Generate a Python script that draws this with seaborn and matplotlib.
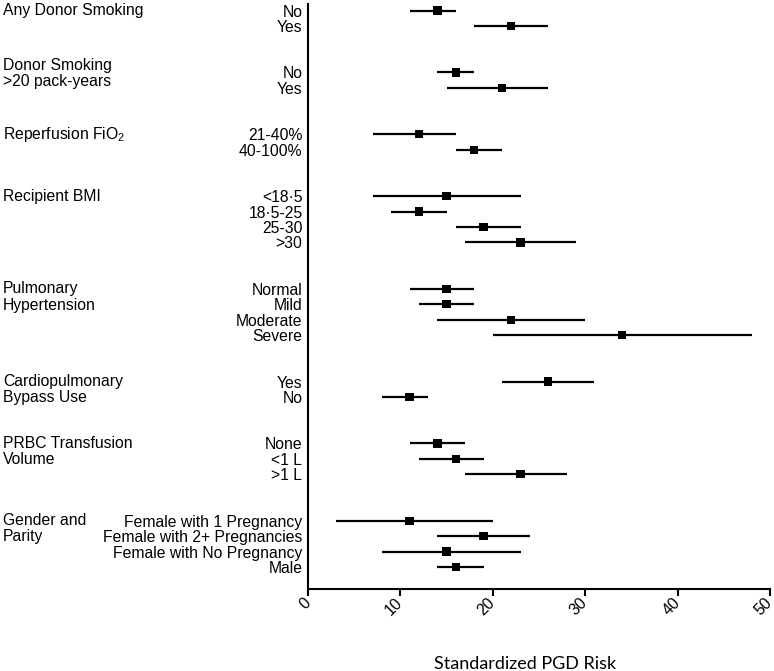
import matplotlib
matplotlib.use("Agg")
import matplotlib.pyplot as plt
import matplotlib.transforms as mtransforms
import pandas as pd
import seaborn as sns

# ---- data ----
groups = [
    "Any Donor Smoking",
    "Donor Smoking\n>20 pack-years",
    "Reperfusion FiO$_\\mathregular{2}$",
    "Recipient BMI",
    "Pulmonary\nHypertension",
    "Cardiopulmonary\nBypass Use",
    "PRBC Transfusion\nVolume",
    "Gender and\nParity",
]
levels = [
    ["No", "Yes"],
    ["No", "Yes"],
    ["21-40%", "40-100%"],
    ["<18·5", "18·5-25", "25-30", ">30"],
    ["Normal", "Mild", "Moderate", "Severe"],
    ["Yes", "No"],
    ["None", "<1 L", ">1 L"],
    ["Female with 1 Pregnancy", "Female with 2+ Pregnancies",
     "Female with No Pregnancy", "Male"],
]
estimates = [
    [14, 22],
    [16, 21],
    [12, 18],
    [15, 12, 19, 23],
    [15, 15, 22, 34],
    [26, 11],
    [14, 16, 23],
    [11, 19, 15, 16],
]
lows = [
    [11, 18],
    [14, 15],
    [7, 16],
    [7, 9, 16, 17],
    [11, 12, 14, 20],
    [21, 8],
    [11, 12, 17],
    [3, 14, 8, 14],
]
highs = [
    [16, 26],
    [18, 26],
    [16, 21],
    [23, 15, 23, 29],
    [18, 18, 30, 48],
    [31, 13],
    [17, 19, 28],
    [20, 24, 23, 19],
]
xticks = [0, 10, 20, 30, 40, 50]

# ---- long table, one row per level, with a slot index (2 blank slots between groups) ----
rows = []
slot = 0
group_first_slot = []
for g, labs, est, lo, hi in zip(groups, levels, estimates, lows, highs):
    group_first_slot.append(slot)
    for lab, e, l, h in zip(labs, est, lo, hi):
        rows.append({"group": g, "level": lab, "est": e, "lo": l, "hi": h, "slot": slot})
        slot += 1
    slot += 2
df = pd.DataFrame(rows)
last_slot = df["slot"].max()

plt.rcParams["font.family"] = "sans-serif"
plt.rcParams["font.sans-serif"] = ["Liberation Sans", "DejaVu Sans"]
plt.rcParams["mathtext.fontset"] = "custom"
plt.rcParams["mathtext.rm"] = "Liberation Sans"
plt.rcParams["font.size"] = 11.3

fig = plt.figure(figsize=(7.74, 6.71), dpi=100)
ax = fig.add_axes([308 / 774, 82 / 671, 462 / 774, 585 / 671])

ax.hlines(df["slot"], df["lo"], df["hi"], color="black", linewidth=1.6, zorder=2)
sns.scatterplot(data=df, x="est", y="slot", marker="s", s=36, color="black",
                edgecolor="none", ax=ax, zorder=3, legend=False)

ax.set_xlim(0, 50)
ax.set_ylim(last_slot + 1.42, -0.43)
ax.set_xticks(xticks)
ax.set_xticklabels([str(t) for t in xticks], rotation=45, ha="right",
                   va="center", rotation_mode="anchor")
ax.set_yticks(df["slot"])
ax.set_yticklabels(df["level"])
ax.tick_params(axis="y", length=0, pad=4, labelsize=11.3)
ax.tick_params(axis="x", length=5, width=1.5, direction="out", pad=3, labelsize=11.3)

for side in ["top", "right"]:
    ax.spines[side].set_visible(False)
for side in ["left", "bottom"]:
    ax.spines[side].set_linewidth(1.5)
ax.set_ylabel("")
ax.set_xlabel("Standardized PGD Risk", family=["Lato", "DejaVu Sans"], fontsize=13)
ax.xaxis.set_label_coords(0.469, -0.115)

# group labels at the left edge of the figure
trans = mtransforms.blended_transform_factory(fig.transFigure, ax.transData)
shift = {1: -0.45}
for i, (g, s0) in enumerate(zip(groups, group_first_slot)):
    for k, line in enumerate(g.split("\n")):
        ax.text(3 / 774, s0 + k * 1.05 + shift.get(i, 0), line, transform=trans,
                ha="left", va="center", fontsize=11.3)

fig.savefig("out.png", dpi=100)
